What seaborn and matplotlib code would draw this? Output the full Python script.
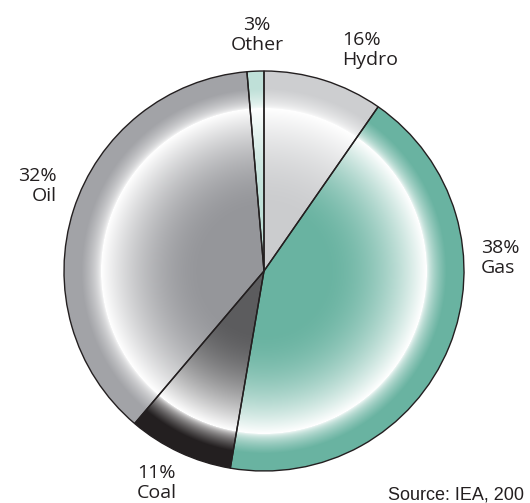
import numpy as np
import matplotlib
matplotlib.use('Agg')
import matplotlib.pyplot as plt
import seaborn as sns
from matplotlib.colors import to_rgb

sns.set_style("white")
plt.rcParams['font.family'] = ['Open Sans', 'DejaVu Sans']

# wedge order clockwise from 12 o'clock
sources = ["Hydro", "Gas", "Coal", "Oil", "Other"]
label_pct = [16, 38, 11, 32, 3]
# drawn wedge sizes (degrees)
wedge_deg = [34.8, 154.9, 30.6, 134.8, 4.9]
inner_colors = ["#cbccce", "#69b3a1", "#5c5c5e", "#95969a", "#bfe0d8"]
outer_colors = ["#cdced0", "#69b3a1", "#231f20", "#a2a3a7", "#bfe0d8"]

W, H = 530, 503
cx, cy, R = 264, H - 271, 200

fig = plt.figure(figsize=(W / 100, H / 100), dpi=100)
ax = fig.add_axes([0, 0, 1, 1])

wedges, _ = ax.pie(wedge_deg, center=(cx, cy), radius=R, startangle=90,
                   counterclock=False, frame=True,
                   wedgeprops=dict(facecolor="none", edgecolor="#231f20", linewidth=1.0))

# radial highlight profile
n = 400
xs = np.linspace(cx - R, cx + R, n)
ys = np.linspace(cy - R, cy + R, n)
XX, YY = np.meshgrid(xs, ys)
rr = np.hypot(XX - cx, YY - cy) / R
peak = 0.815
w = np.zeros_like(rr)
up = (rr > 0.3) & (rr <= peak)
w[up] = ((rr[up] - 0.3) / (peak - 0.3)) ** 1.8
dn = (rr > peak) & (rr < peak + 0.1)
w[dn] = 1 - ((rr[dn] - peak) / 0.1) ** 0.55

for wd, ci, co in zip(wedges, inner_colors, outer_colors):
    ci, co = np.array(to_rgb(ci)), np.array(to_rgb(co))
    base = np.where((rr < peak)[..., None], ci, co)
    img = base * (1 - w[..., None]) + w[..., None]
    im = ax.imshow(np.clip(img, 0, 1), extent=(cx - R, cx + R, cy - R, cy + R),
                   origin="lower", interpolation="bilinear", zorder=0)
    im.set_clip_path(wd)

fs = 14
ax.text(257, H - 35, f"{label_pct[4]}%\n{sources[4]}", ha="center", va="center",
        multialignment="center", fontsize=fs, color="#231f20", linespacing=1.15)
ax.text(342, H - 50, f"{label_pct[0]}%\n{sources[0]}", ha="left", va="center",
        multialignment="left", fontsize=fs, color="#231f20", linespacing=1.15)
ax.text(57, H - 186, f"{label_pct[3]}%\n{sources[3]}", ha="right", va="center",
        multialignment="right", fontsize=fs, color="#231f20", linespacing=1.15)
ax.text(481, H - 258, f"{label_pct[1]}%\n{sources[1]}", ha="left", va="center",
        multialignment="left", fontsize=fs, color="#231f20", linespacing=1.15)
ax.text(137, H - 483, f"{label_pct[2]}%\n{sources[2]}", ha="left", va="center",
        multialignment="left", fontsize=fs, color="#231f20", linespacing=1.15)
ax.text(388, -1, "Source: IEA, 200", ha="left", va="bottom", fontsize=13,
        family="Liberation Sans", color="#231f20")

ax.set_xlim(0, W)
ax.set_ylim(0, H)
ax.set_aspect("equal")
ax.axis("off")
fig.savefig("out.png", dpi=100)
